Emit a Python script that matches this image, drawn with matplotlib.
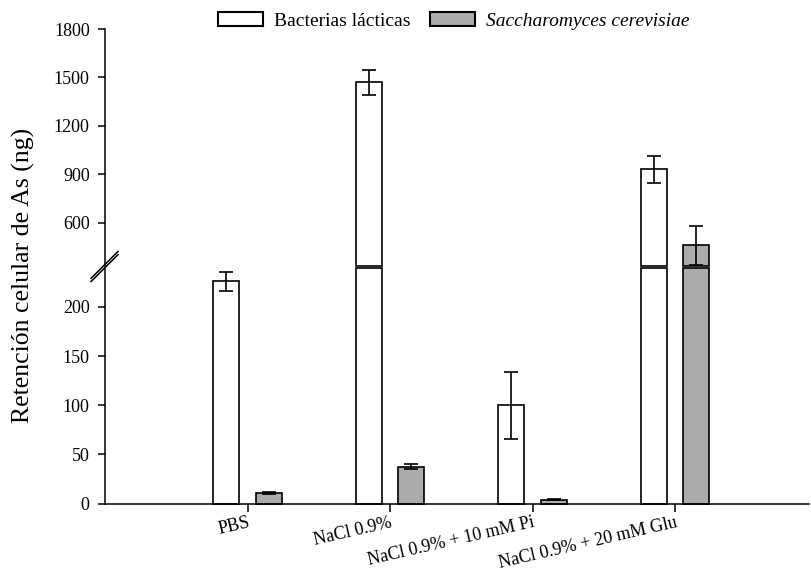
import numpy as np
import matplotlib.pyplot as plt
from matplotlib.patches import Patch
from matplotlib.lines import Line2D

plt.rcParams['font.family'] = 'Liberation Serif'

conditions = ['PBS', 'NaCl 0.9%', 'NaCl 0.9% + 10 mM Pi', 'NaCl 0.9% + 20 mM Glu']
lab_mean = np.array([226, 1470, 100, 930])
lab_err = np.array([9.5, 77, 34, 83])
yeast_mean = np.array([11, 37.5, 4, 460])
yeast_err = np.array([1, 2.5, 0.6, 120])

low_ticks = [0, 50, 100, 150, 200]
high_ticks = [600, 900, 1200, 1500, 1800]
low_top = 240
high_bottom = 335
high_top = 1800

W, H = 811, 574
fig = plt.figure(figsize=(W / 100, H / 100), dpi=100)

def box(x0, y_top, x1, y_bottom):
    # pixel box (from top-left) -> figure fraction rect
    return [x0 / W, 1 - y_bottom / H, (x1 - x0) / W, (y_bottom - y_top) / H]

ax_lo = fig.add_axes(box(105, 267.5, 809, 503.7))
ax_hi = fig.add_axes(box(105, 29, 809, 265.5))

x = np.arange(len(conditions))
bw = 0.182
series = [(-0.15, lab_mean, lab_err, 'white'),
          (0.15, yeast_mean, yeast_err, '#ababab')]

for offs, means, errs, color in series:
    # lower segment, capped at the break
    ax_lo.bar(x + offs, np.minimum(means, low_top), bw, color=color,
              edgecolor='black', linewidth=1.2, clip_on=False, zorder=2)
    # upper segment for the tall bars
    tall = means > high_bottom
    ax_hi.bar(x[tall] + offs, means[tall] - high_bottom, bw, bottom=high_bottom,
              color=color, edgecolor='black', linewidth=1.2, clip_on=False, zorder=2)
    for ax in (ax_lo, ax_hi):
        ax.errorbar(x + offs, means, yerr=errs, fmt='none', ecolor='black',
                    elinewidth=1.2, capsize=4.8, capthick=1.2, zorder=3)

for ax in (ax_lo, ax_hi):
    ax.set_xlim(-1, 3.94)
    ax.spines['top'].set_visible(False)
    ax.spines['right'].set_visible(False)
    ax.spines['left'].set_linewidth(1.1)
    ax.tick_params(axis='y', direction='out', length=5, width=1.1,
                   labelsize=13, pad=6)

ax_lo.set_ylim(0, low_top)
ax_lo.set_yticks(low_ticks)
ax_lo.spines['bottom'].set_linewidth(1.1)
ax_lo.set_xticks(x)
ax_lo.set_xticklabels(conditions, rotation=13, ha='right', va='top',
                      rotation_mode='anchor')
ax_lo.tick_params(axis='x', direction='out', length=5.5, width=1.1,
                  labelsize=13, pad=2)

ax_hi.set_ylim(high_bottom, high_top)
ax_hi.set_yticks(high_ticks)
ax_hi.spines['bottom'].set_visible(False)
ax_hi.set_xticks([])

# break marks on the y axis
for dy in (-1.6, 1.6):
    fig.add_artist(Line2D([91 / W, 118 / W],
                          [1 - (280 + dy) / H, 1 - (253 + dy) / H],
                          transform=fig.transFigure, color='black', linewidth=1.1))

fig.text(23 / W, 1 - 275 / H, 'Retención celular de As (ng)', rotation=90,
         ha='center', va='center', fontsize=18.5)

handles = [Patch(facecolor='white', edgecolor='black', linewidth=1.5),
           Patch(facecolor='#ababab', edgecolor='black', linewidth=1.5)]
leg = fig.legend(handles, ['Bacterias lácticas', 'Saccharomyces cerevisiae'],
                 loc='center', bbox_to_anchor=(454 / W, 1 - 21 / H), ncol=2,
                 frameon=False, fontsize=14, handlelength=2.3, handleheight=0.72,
                 handletextpad=0.58, columnspacing=1.0)
leg.get_texts()[1].set_fontstyle('italic')

fig.savefig('out.png', dpi=100)
